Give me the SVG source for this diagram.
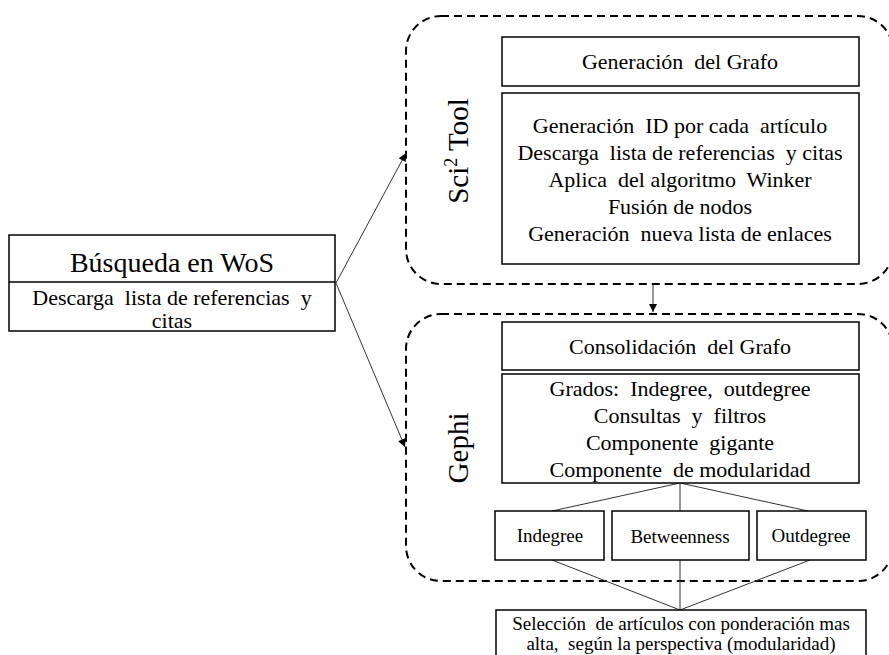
<svg xmlns="http://www.w3.org/2000/svg" width="889" height="655" viewBox="0 0 889 655">
<style>
text{font-family:"Liberation Serif","Times New Roman",serif;fill:#000;text-anchor:middle;white-space:pre}
.box{fill:#fff;stroke:#000;stroke-width:1.5}
.cont{fill:none;stroke:#000;stroke-width:2;stroke-dasharray:8 5}
.ln{stroke:#333;stroke-width:1;fill:none}
.t22{font-size:22px}
.t19{font-size:19px}
.title{font-size:29px}
</style>
<defs>
<marker id="ah" viewBox="0 0 10 10" refX="10" refY="5" markerWidth="10" markerHeight="8" markerUnits="userSpaceOnUse" orient="auto">
<path d="M0,0 L10,5 L0,10 z" fill="#000"/>
</marker>
</defs>
<rect width="889" height="655" fill="#fff"/>
<g id="sci2-container">
<rect class="cont" x="406" y="16" width="487" height="268" rx="35"/>
<text class="title" transform="translate(468,151) rotate(-90)">Sci<tspan font-size="18" dy="-11">2</tspan><tspan dy="11"> Tool</tspan></text>
</g>
<g id="gephi-container">
<rect class="cont" x="406" y="314" width="487" height="267" rx="35"/>
<text class="title" transform="translate(468,448) rotate(-90)">Gephi</text>
</g>
<g id="connectors">
<line class="ln" x1="336" y1="283" x2="406" y2="153" marker-end="url(#ah)"/>
<line class="ln" x1="336" y1="283" x2="405" y2="447" marker-end="url(#ah)"/>
<line class="ln" x1="653" y1="285" x2="653" y2="312" marker-end="url(#ah)"/>
<line class="ln" x1="680" y1="483" x2="552" y2="511"/>
<line class="ln" x1="680" y1="483" x2="680" y2="511"/>
<line class="ln" x1="680" y1="483" x2="808" y2="511"/>
<line class="ln" x1="552" y1="560" x2="680" y2="610"/>
<line class="ln" x1="680" y1="560" x2="680" y2="610"/>
<line class="ln" x1="810" y1="560" x2="680" y2="610"/>
</g>
<g id="busqueda">
<rect class="box" x="9" y="235" width="326" height="96"/>
<line class="box" x1="9" y1="282" x2="335" y2="282"/>
<text x="172" y="272" font-size="28">Búsqueda en WoS</text>
<text class="t22" x="172" y="305">Descarga  lista de referencias  y</text>
<text class="t22" x="172" y="328">citas</text>
</g>
<g id="generacion-grafo">
<rect class="box" x="502" y="37" width="357" height="49"/>
<text class="t22" x="680" y="69">Generación  del Grafo</text>
</g>
<g id="generacion-pasos">
<rect class="box" x="502" y="93" width="357" height="171"/>
<text class="t22" x="680" y="133">Generación  ID por cada  artículo</text>
<text class="t22" x="680" y="160">Descarga  lista de referencias  y citas</text>
<text class="t22" x="680" y="187">Aplica  del algoritmo  Winker</text>
<text class="t22" x="680" y="214">Fusión de nodos</text>
<text class="t22" x="680" y="241">Generación  nueva lista de enlaces</text>
</g>
<g id="consolidacion-grafo">
<rect class="box" x="502" y="322" width="357" height="48"/>
<text class="t22" x="680" y="354">Consolidación  del Grafo</text>
</g>
<g id="consolidacion-pasos">
<rect class="box" x="502" y="374" width="357" height="109"/>
<text class="t22" x="680" y="396">Grados:  Indegree,  outdegree</text>
<text class="t22" x="680" y="423">Consultas  y  filtros</text>
<text class="t22" x="680" y="450">Componente  gigante</text>
<text class="t22" x="680" y="477">Componente  de modularidad</text>
</g>
<g id="indegree">
<rect class="box" x="495" y="511" width="109" height="49"/>
<text class="t19" x="550" y="542">Indegree</text>
</g>
<g id="betweenness">
<rect class="box" x="612" y="511" width="137" height="49"/>
<text class="t19" x="680" y="543">Betweenness</text>
</g>
<g id="outdegree">
<rect class="box" x="757" y="511" width="109" height="49"/>
<text class="t19" x="811" y="542">Outdegree</text>
</g>
<g id="seleccion">
<rect class="box" x="496" y="610" width="370" height="60"/>
<text class="t19" x="681" y="630">Selección  de artículos con ponderación mas</text>
<text class="t19" x="681" y="650">alta,  según la perspectiva (modularidad)</text>
</g>
</svg>
